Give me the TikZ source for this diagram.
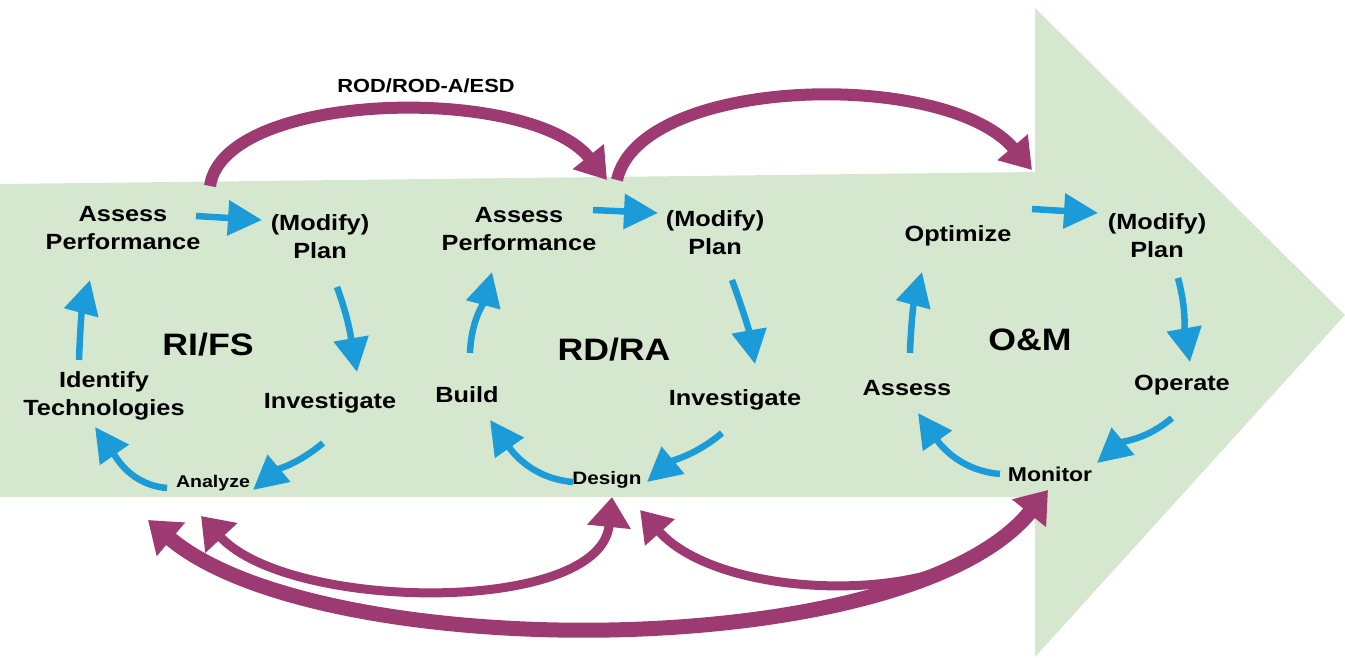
\documentclass[tikz,border=0pt]{standalone}
\usepackage{fontspec}
\setmainfont{Liberation Sans}[FakeStretch=1.15]
\usetikzlibrary{arrows.meta,calc}
\definecolor{fondo}{RGB}{213,232,207}
\definecolor{morado}{RGB}{158,58,114}
\definecolor{azul}{RGB}{27,155,215}

\begin{document}
\begin{tikzpicture}[x=1pt,y=-1pt,
	etiq/.style={font=\bfseries\fontsize{22}{28}\selectfont,align=center,inner sep=0pt},
	titulo/.style={font=\bfseries\fontsize{31}{34}\selectfont,inner sep=0pt},
	chica/.style={font=\bfseries\fontsize{17}{19}\selectfont,inner sep=0pt},
	flecha/.style={azul,line width=6.5pt,-{Triangle[length=34pt,width=34pt]}},
	retro/.style={morado,line width=12pt,-{Triangle[length=30pt,width=38pt]}},
	retroab/.style={morado,line width=#1,{Triangle[length=30pt,width=42pt]}-{Triangle[length=30pt,width=42pt]}}]

\useasboundingbox (0,0) rectangle (1345,657);

% Flecha de fondo
	\fill[fondo] (0,184) -- (1035,172) -- (1035,8) -- (1345,315) -- (1035,657)
		-- (1035,497) -- (0,497) -- cycle;

% Ciclo RI/FS
	\node[etiq] (ap1) at (123,228) {Assess\\Performance};
	\node[etiq] (mp1) at (320,237) {(Modify)\\Plan};
	\node[titulo] (rifs) at (208,345) {RI/FS};
	\node[etiq] (id1) at (104,396) {Identify\\Technologies};
	\node[etiq] (inv1) at (330,403) {Investigate};
	\node[chica] (an1) at (213,483) {Analyze};

	\draw[flecha] ($(ap1)+(73,-12)$) -- ($(mp1)+(-58,-17)$);
	\draw[flecha] ($(mp1)+(17,50)$) to[out=-70,in=100] ($(inv1)+(27,-31)$);
	\draw[flecha] ($(inv1)+(-7,40)$) to[out=-140,in=40] ($(an1)+(40,7)$);
	\draw[flecha] ($(an1)+(-46,5)$) to[out=175,in=-55] ($(id1)+(-9,31)$);
	\draw[flecha] ($(id1)+(-25,-36)$) to[out=88,in=-105] ($(ap1)+(-33,52)$);

% Ciclo RD/RA
	\node[etiq] (ap2) at (519,229) {Assess\\Performance};
	\node[etiq] (mp2) at (715,233) {(Modify)\\Plan};
	\node[titulo] (rdra) at (614,350) {RD/RA};
	\node[etiq] (bu2) at (467,395) {Build};
	\node[etiq] (inv2) at (735,400) {Investigate};
	\node[chica,font=\bfseries\fontsize{18}{20}\selectfont] (de2) at (607,480) {Design};

	\draw[flecha] ($(ap2)+(74,-19)$) -- ($(mp2)+(-57,-20)$);
	\draw[flecha] ($(mp2)+(17,47)$) to[out=-70,in=100] ($(inv2)+(20,-36)$);
	\draw[flecha] ($(inv2)+(-13,33)$) to[out=-140,in=40] ($(de2)+(40,2)$);
	\draw[flecha] ($(de2)+(-34,2)$) to[out=175,in=-55] ($(bu2)+(23,25)$);
	\draw[flecha] ($(bu2)+(3,-42)$) to[out=88,in=-105] ($(ap2)+(-27,43)$);

% Ciclo O&M
	\node[etiq] (op3) at (958,236) {Optimize};
	\node[etiq] (mp3) at (1157,236) {(Modify)\\Plan};
	\node[titulo] (om) at (1030,340) {O\&M};
	\node[etiq] (as3) at (907,388) {Assess};
	\node[etiq] (or3) at (1182,385) {Operate};
	\node[chica,font=\bfseries\fontsize{20}{22}\selectfont] (mo3) at (1050,474) {Monitor};

	\draw[flecha] ($(op3)+(74,-27)$) -- ($(mp3)+(-59,-23)$);
	\draw[flecha] ($(mp3)+(21,42)$) to[out=-75,in=100] ($(or3)+(8,-23)$);
	\draw[flecha] ($(or3)+(-10,33)$) to[out=-140,in=40] ($(mo3)+(47,-11)$);
	\draw[flecha] ($(mo3)+(-50,0)$) to[out=175,in=-55] ($(as3)+(11,25)$);
	\draw[flecha] ($(as3)+(3,-35)$) to[out=88,in=-105] ($(op3)+(-36,36)$);

% Retroalimentacion superior
	\node[font=\bfseries\fontsize{19}{21}\selectfont,inner sep=0pt] (rod) at (426,86) {ROD/ROD-A/ESD};
	\coordinate (s1) at (210,186);
	\coordinate (s2) at (607,180);
	\coordinate (s3) at (617,180);
	\coordinate (s4) at (1032,170);
	\draw[retro] (s1) .. controls (224,90) and (530,84) .. (s2);
	\draw[retro] (s3) .. controls (640,76) and (945,68) .. (s4);

% Retroalimentacion inferior
	\draw[retroab=15pt] ($(an1)+(-65,37)$) .. controls (320,665) and (905,665) .. ($(mo3)+(-2,16)$);
	\draw[retroab=9pt] ($(an1)+(-12,33)$) .. controls (290,612) and (600,615) .. ($(de2)+(5,17)$);
	\draw[morado,line width=9pt,-{Triangle[length=30pt,width=38pt]}] (995,540)
		.. controls (935,605) and (720,600) .. ($(de2)+(33,30)$);
\end{tikzpicture}
\end{document}
